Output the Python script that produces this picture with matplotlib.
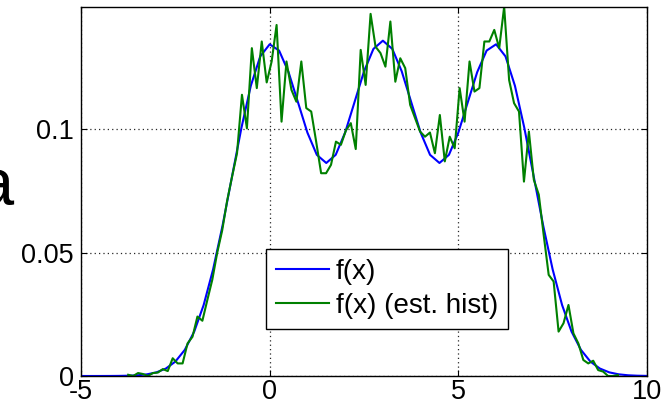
import numpy as np
import matplotlib
matplotlib.use('Agg')
import matplotlib.pyplot as plt

plt.rcParams['font.family'] = ['Liberation Sans', 'DejaVu Sans']
plt.rcParams['axes.unicode_minus'] = False

# true density f(x), sampled every 0.25 from -5 to 10
x_true = np.arange(-5, 10.001, 0.25)
f_true = [0.0000005, 0.0000017, 0.0000053, 0.0000159, 0.0000446, 0.000118, 0.000291, 0.000676,
          0.001477, 0.003032, 0.005843, 0.01058, 0.01800, 0.02876, 0.04317, 0.06088,
          0.08070, 0.10050, 0.11764, 0.12957, 0.13446, 0.13192, 0.12319, 0.11096,
          0.09866, 0.08964, 0.08635, 0.08966, 0.09870, 0.11108, 0.12348, 0.13260,
          0.13593, 0.13260, 0.12348, 0.11108, 0.09870, 0.08966, 0.08635, 0.08964,
          0.09866, 0.11096, 0.12319, 0.13192, 0.13446, 0.12957, 0.11764, 0.10050,
          0.08070, 0.06088, 0.04317, 0.02876, 0.01800, 0.01058, 0.005843, 0.003032,
          0.001477, 0.000676, 0.000291, 0.000118, 0.0000446]

# histogram estimate, 100 bins
hist_lo, hist_hi = -3.75, 9.23
f_hist = [0.0005, 0.0000, 0.0012, 0.0008, 0.0000, 0.0012, 0.0014, 0.0028, 0.0020, 0.0072,
          0.0051, 0.0051, 0.0132, 0.0159, 0.0241, 0.0224, 0.0308, 0.0390, 0.0500, 0.0590,
          0.0710, 0.0808, 0.0903, 0.1140, 0.1004, 0.1329, 0.1167, 0.1356, 0.1190, 0.1275,
          0.1423, 0.1031, 0.1275, 0.1160, 0.1112, 0.1275, 0.1086, 0.1072, 0.0950, 0.0822,
          0.0822, 0.0856, 0.0950, 0.0937, 0.0995, 0.1025, 0.0920, 0.1322, 0.1180, 0.1468,
          0.1335, 0.1309, 0.1254, 0.1437, 0.1193, 0.1288, 0.1248, 0.1099, 0.1045, 0.0991,
          0.0970, 0.0987, 0.0903, 0.1058, 0.0870, 0.0970, 0.0923, 0.1167, 0.1031, 0.1275,
          0.1153, 0.1167, 0.1356, 0.1356, 0.1403, 0.1329, 0.1497, 0.1200, 0.1106, 0.1072,
          0.0788, 0.0991, 0.0795, 0.0735, 0.0570, 0.0410, 0.0383, 0.0180, 0.0214, 0.0288,
          0.0173, 0.0132, 0.0065, 0.0051, 0.0062, 0.0024, 0.0018, 0.0000, 0.0000, 0.0004]
x_hist = np.linspace(hist_lo, hist_hi, len(f_hist))

xticks = [-5, 0, 5, 10]
yticks = [0, 0.05, 0.1]
ytick_labels = ['0', '0.05', '0.1']
labels = ['f(x)', 'f(x) (est. hist)']

fig = plt.figure(figsize=(6.64, 4.04), dpi=100)
ax = fig.add_axes([0.122, 0.0693, 0.8524, 0.9141])

ax.plot(x_true, f_true, color=(0, 0, 1), lw=1.5, label=labels[0])
ax.plot(x_hist, f_hist, color=(0, 0.5, 0), lw=1.5, label=labels[1])

ax.set_xlim(-5, 10)
ax.set_ylim(0, max(max(f_hist), max(f_true)))
ax.set_xticks(xticks)
ax.set_xticklabels([str(t) for t in xticks])
ax.set_yticks(yticks)
ax.set_yticklabels(ytick_labels)

ax.grid(True, color='0.15', linestyle=(0, (1, 2.5)), lw=0.9)
ax.tick_params(direction='in', length=4, width=0.8, top=True, right=True,
               labelsize=19.5, colors='black')
ax.tick_params(axis='x', pad=2)
ax.tick_params(axis='y', pad=5)
for s in ax.spines.values():
    s.set_linewidth(1.0)
    s.set_color('black')

leg = ax.legend(loc='upper left', bbox_to_anchor=(0.327, 0.344), fontsize=20,
                frameon=True, fancybox=False, edgecolor='black', framealpha=1,
                handlelength=1.9, handletextpad=0.25, borderpad=0.35,
                labelspacing=0.3, borderaxespad=0)
leg.get_frame().set_linewidth(1.0)

# cut-off label at the left edge
fig.text(13 / 664, 1 - 205 / 404, 'a', fontsize=48, ha='right', va='baseline')

fig.savefig('out.png', dpi=100)
